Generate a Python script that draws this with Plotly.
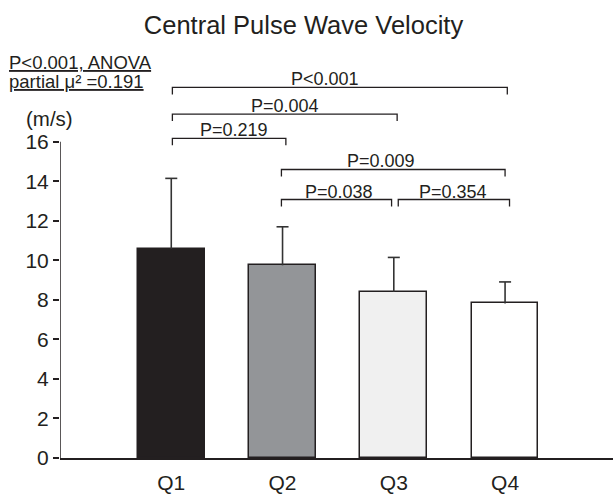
import plotly.graph_objects as go

# ---- data ----
categories = ["Q1", "Q2", "Q3", "Q4"]
means = [10.58, 9.75, 8.40, 7.82]
sds = [3.57, 1.95, 1.75, 1.09]
bar_colors = ["#231f20", "#939598", "#f0f0f0", "#ffffff"]
y_tick_values = [0, 2, 4, 6, 8, 10, 12, 14, 16]

# comparisons: (left index, right index, label)
comp_left = [0, 0, 0, 1, 1, 2]
comp_right = [3, 2, 1, 3, 2, 3]
comp_labels = ["P<0.001", "P=0.004", "P=0.219", "P=0.009", "P=0.038", "P=0.354"]

# ---- layout helpers (positions / styling) ----
bracket_levels = [18.75, 17.4, 16.17, 14.6, 13.08, 13.08]
bracket_lshift = [0.01, 0.01, 0.01, -0.01, -0.01, 0.04]
bracket_rshift = [0.02, 0.03, 0.03, 0.0, -0.02, 0.04]
label_xshift = [-15, 0, 5, -12, 2, -1]
drop = 0.35
cap_half = 0.054

ink = "#231f20"
font_family = "Liberation Sans, Arial, Helvetica, sans-serif"
x_positions = list(range(len(categories)))

fig = go.Figure()
fig.add_trace(go.Bar(
    x=x_positions,
    y=means,
    width=0.6,
    marker=dict(color=bar_colors, line=dict(color=ink, width=1.5)),
    showlegend=False,
    hoverinfo="skip",
))

# upward-only error bars (stem + top cap), from the data
ex, ey = [], []
for xp, m, s in zip(x_positions, means, sds):
    ex += [xp, xp, None, xp - cap_half, xp + cap_half, None]
    ey += [m, m + s, None, m + s, m + s, None]
fig.add_trace(go.Scatter(x=ex, y=ey, mode="lines",
                         line=dict(color="#333333", width=1.6),
                         showlegend=False, hoverinfo="skip"))

shapes = []
annotations = []
# y-axis line (0..16)
shapes.append(dict(type="line", xref="x", yref="y", x0=-1, x1=-1,
                   y0=y_tick_values[0], y1=y_tick_values[-1],
                   line=dict(color=ink, width=1.5)))

for l, r, lab, lev, ls, rs, xs in zip(comp_left, comp_right, comp_labels,
                                      bracket_levels, bracket_lshift,
                                      bracket_rshift, label_xshift):
    xl = x_positions[l] + ls
    xr = x_positions[r] + rs
    shapes.append(dict(type="path", xref="x", yref="y",
                       path=f"M {xl},{lev - drop} L {xl},{lev} L {xr},{lev} L {xr},{lev - drop}",
                       line=dict(color=ink, width=1.3)))
    annotations.append(dict(x=(xl + xr) / 2, y=lev, xref="x", yref="y",
                            text=lab, showarrow=False, xanchor="center",
                            yanchor="bottom", yshift=-4, xshift=xs,
                            font=dict(size=18, color=ink, family=font_family)))

annotations.append(dict(x=-0.096, y=20.0, xref="paper", yref="y",
                        text="<u>P<0.001, ANOVA</u>", showarrow=False,
                        xanchor="left", yanchor="middle",
                        font=dict(size=18.5, color=ink, family=font_family)))
annotations.append(dict(x=-0.096, y=19.05, xref="paper", yref="y",
                        text="<u>partial μ² =0.191</u>", showarrow=False,
                        xanchor="left", yanchor="middle",
                        font=dict(size=18.5, color=ink, family=font_family)))
annotations.append(dict(x=-0.019, y=17.2, xref="paper", yref="y",
                        text="(m/s)", showarrow=False,
                        xanchor="center", yanchor="middle",
                        font=dict(size=20.5, color=ink, family=font_family)))

fig.update_layout(
    width=613, height=496,
    margin=dict(l=60, r=0, t=43, b=38, pad=0),
    paper_bgcolor="white", plot_bgcolor="white",
    font=dict(family=font_family, color=ink),
    title=dict(text="Central Pulse Wave Velocity", x=303.5 / 613, xanchor="center",
               y=1 - 25 / 496, yanchor="middle", yref="container",
               font=dict(size=25.5, color=ink, family=font_family)),
    shapes=shapes,
    annotations=annotations,
    bargap=0,
)
fig.update_xaxes(range=[-1, 3.97], tickvals=x_positions, ticktext=categories,
                 showline=True, linecolor=ink, linewidth=2, showgrid=False,
                 zeroline=False, ticks="outside", ticklen=5, automargin=False,
                 tickcolor="rgba(0,0,0,0)", tickfont=dict(size=21, color=ink))
fig.update_yaxes(range=[0, 21], tickvals=y_tick_values, showline=False,
                 showgrid=False, zeroline=False, ticks="outside", ticklen=6,
                 tickwidth=1.5, tickcolor=ink, automargin=False,
                 tickfont=dict(size=21, color=ink))

fig.write_html("out.html", config={"displayModeBar": False},
               post_script="document.body.style.margin='0';document.body.style.overflow='hidden';")
